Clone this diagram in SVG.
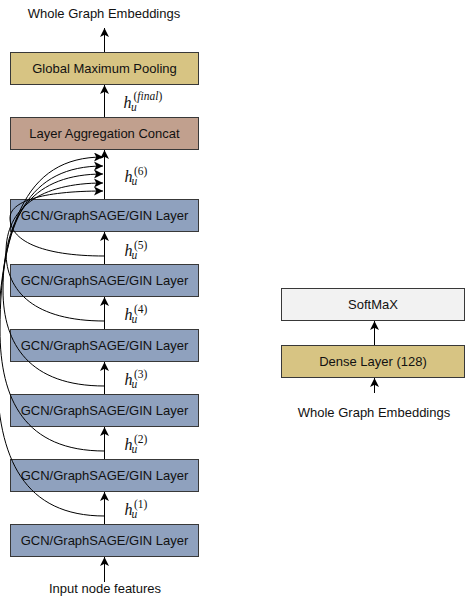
<svg xmlns="http://www.w3.org/2000/svg" width="466" height="600" viewBox="0 0 466 600">
<style>
  .box{stroke:#383838;stroke-width:1}
  .gold{fill:#d7c483}
  .brown{fill:#c1a08e}
  .blue{fill:#8fa1be}
  .gray{fill:#f2f2f2}
  .lbl{font-family:"Liberation Sans",Arial,sans-serif;font-size:13px;fill:#111;text-anchor:middle}
  .hm{font-family:"Liberation Serif","Times New Roman",serif;font-style:italic;fill:#111}
  .h{font-size:16px}
  .s{font-size:11.5px}
  .up{font-style:normal}
  .conn{fill:none;stroke:#000;stroke-width:1}
</style>
<defs>
  <marker id="arr" markerUnits="userSpaceOnUse" markerWidth="9" markerHeight="9" viewBox="0 0 8 8" refX="8" refY="4" orient="auto">
    <path d="M0,0 L8,4 L0,8 L2,4 z" fill="#000"/>
  </marker>
</defs>

<g id="top-label"><text class="lbl" x="104" y="18">Whole Graph Embeddings</text></g>

<g id="pool"><rect class="box gold" x="10.5" y="52.5" width="188" height="32"/><text class="lbl" x="104.5" y="73">Global Maximum Pooling</text></g>
<g id="concat"><rect class="box brown" x="10.5" y="117.5" width="188" height="32"/><text class="lbl" x="104.5" y="138">Layer Aggregation Concat</text></g>
<g id="layer6"><rect class="box blue" x="10.5" y="199.5" width="188" height="32"/><text class="lbl" x="104.5" y="220">GCN/GraphSAGE/GIN Layer</text></g>
<g id="layer5"><rect class="box blue" x="10.5" y="264.5" width="188" height="32"/><text class="lbl" x="104.5" y="285">GCN/GraphSAGE/GIN Layer</text></g>
<g id="layer4"><rect class="box blue" x="10.5" y="329.5" width="188" height="32"/><text class="lbl" x="104.5" y="350">GCN/GraphSAGE/GIN Layer</text></g>
<g id="layer3"><rect class="box blue" x="10.5" y="394.5" width="188" height="32"/><text class="lbl" x="104.5" y="415">GCN/GraphSAGE/GIN Layer</text></g>
<g id="layer2"><rect class="box blue" x="10.5" y="459.5" width="188" height="32"/><text class="lbl" x="104.5" y="480">GCN/GraphSAGE/GIN Layer</text></g>
<g id="layer1"><rect class="box blue" x="10.5" y="524.5" width="188" height="32"/><text class="lbl" x="104.5" y="545">GCN/GraphSAGE/GIN Layer</text></g>
<g id="input-label"><text class="lbl" x="105" y="593">Input node features</text></g>

<g id="softmax"><rect class="box gray" x="281.5" y="288.5" width="183" height="32"/><text class="lbl" x="373" y="309">SoftMaX</text></g>
<g id="dense"><rect class="box gold" x="281.5" y="345.5" width="183" height="32"/><text class="lbl" x="373" y="366">Dense Layer (128)</text></g>
<g id="right-label"><text class="lbl" x="374" y="417">Whole Graph Embeddings</text></g>

<g id="h-labels">
  <text class="hm h" x="123.5" y="108">h</text><text class="hm s" x="131" y="111">u</text><text class="hm s" x="133.5" y="100"><tspan class="up">(</tspan>final<tspan class="up">)</tspan></text>
  <text class="hm h" x="124.5" y="182">h</text><text class="hm s" x="131.5" y="185">u</text><text class="hm s up" x="134" y="175">(6)</text>
  <text class="hm h" x="124.5" y="256">h</text><text class="hm s" x="131.5" y="259">u</text><text class="hm s up" x="134" y="249">(5)</text>
  <text class="hm h" x="124.5" y="320">h</text><text class="hm s" x="131.5" y="323">u</text><text class="hm s up" x="134" y="313">(4)</text>
  <text class="hm h" x="124.5" y="385">h</text><text class="hm s" x="131.5" y="388">u</text><text class="hm s up" x="134" y="378">(3)</text>
  <text class="hm h" x="124.5" y="450">h</text><text class="hm s" x="131.5" y="453">u</text><text class="hm s up" x="134" y="443">(2)</text>
  <text class="hm h" x="124.5" y="515">h</text><text class="hm s" x="131.5" y="518">u</text><text class="hm s up" x="134" y="508">(1)</text>
</g>

<g id="connectors">
  <path class="conn" d="M104.5,52 V28" marker-end="url(#arr)"/>
  <path class="conn" d="M104.5,117 V85" marker-end="url(#arr)"/>
  <path class="conn" d="M104.5,199 V150" marker-end="url(#arr)"/>
  <path class="conn" d="M104.5,264 V232" marker-end="url(#arr)"/>
  <path class="conn" d="M104.5,329 V297" marker-end="url(#arr)"/>
  <path class="conn" d="M104.5,394 V362" marker-end="url(#arr)"/>
  <path class="conn" d="M104.5,459 V427" marker-end="url(#arr)"/>
  <path class="conn" d="M104.5,524 V492" marker-end="url(#arr)"/>
  <path class="conn" d="M104.5,582 V557" marker-end="url(#arr)"/>
  <path class="conn" d="M374.5,393 V378" marker-end="url(#arr)"/>
  <path class="conn" d="M374.5,345 V321" marker-end="url(#arr)"/>
  <path class="conn" d="M104.5,256 C40,256 10,240 10,218 C10,202 40,191 103,191" marker-end="url(#arr)"/>
  <path class="conn" d="M104.5,321 C35,321 6,292 6,252 C6,208 40,183 103,183" marker-end="url(#arr)"/>
  <path class="conn" d="M104.5,386 C30,386 3,345 3,290 C3,212 35,174 103,174" marker-end="url(#arr)"/>
  <path class="conn" d="M104.5,451 C25,451 0,400 0,330 C0,218 30,166 103,166" marker-end="url(#arr)"/>
  <path class="conn" d="M104.5,516 C25,516 -3,460 -3,370 C-3,224 25,157 103,157" marker-end="url(#arr)"/>
</g>
</svg>
